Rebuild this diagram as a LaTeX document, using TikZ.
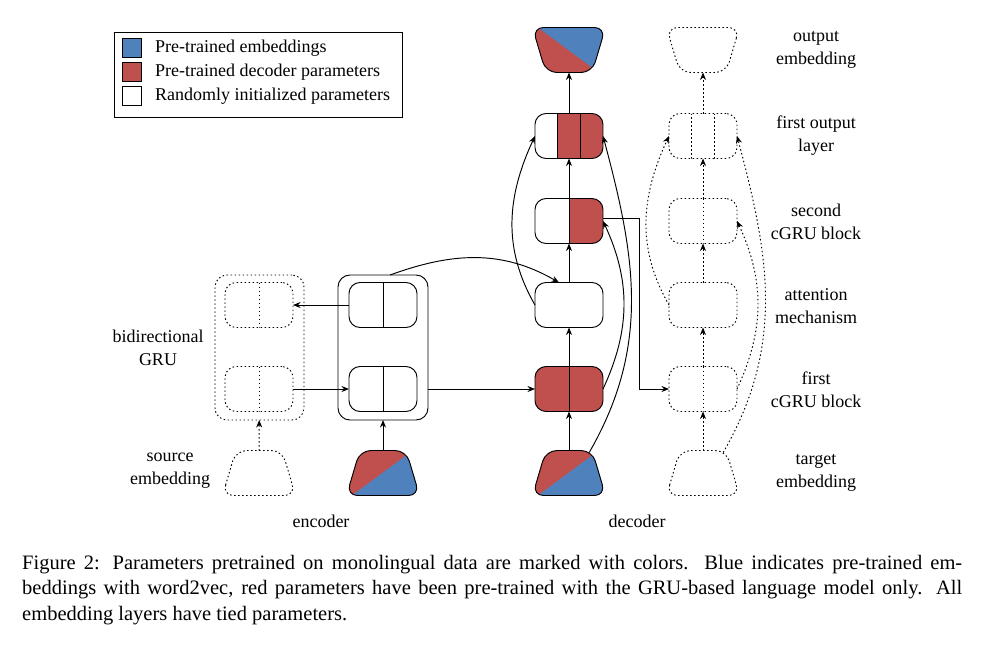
\documentclass[tikz,border=0pt]{standalone}
\usepackage{fontspec}
\setmainfont{Liberation Serif}
\usetikzlibrary{shapes.geometric,arrows.meta,calc}
\definecolor{myblue}{HTML}{4F81BD}
\definecolor{myred}{HTML}{C0504D}
\tikzset{
  ln/.style={line width=0.95pt},
  dots/.style={dash pattern=on 1.5pt off 2.5pt},
  blk/.style={draw, ln, rounded corners=11pt, minimum width=68pt, minimum height=45pt, inner sep=0pt, outer sep=0pt},
  dblk/.style={blk, dots},
  embbase/.style={draw, ln, trapezium, trapezium left angle=74, trapezium right angle=74, trapezium stretches=true, minimum width=73pt, minimum height=45pt, inner sep=2pt, outer sep=0pt, rounded corners=11pt},
  embin/.style={embbase},
  embout/.style={embbase, shape border rotate=180},
  colin/.style={path picture={
    \fill[myred, sharp corners] (path picture bounding box.south west) rectangle (path picture bounding box.north east);
    \fill[myblue, sharp corners] ([yshift=-4pt]path picture bounding box.south west) -- ([yshift=5pt]path picture bounding box.north east) -- (path picture bounding box.south east) -- cycle;}},
  colout/.style={path picture={
    \fill[myred, sharp corners] (path picture bounding box.south west) rectangle (path picture bounding box.north east);
    \fill[myblue, sharp corners] ([yshift=4pt]path picture bounding box.north west) -- (path picture bounding box.north east) -- ([yshift=-5pt]path picture bounding box.south east) -- cycle;}},
  div/.style={path picture={\draw[ln, solid, sharp corners] (path picture bounding box.north) -- (path picture bounding box.south);}},
  ddiv/.style={path picture={\draw[ln, dots, sharp corners] (path picture bounding box.north) -- (path picture bounding box.south);}},
  halfsplit/.style={path picture={
    \fill[myred, sharp corners] (path picture bounding box.south) rectangle (path picture bounding box.north east);
    \draw[ln, solid, sharp corners] (path picture bounding box.north) -- (path picture bounding box.south);}},
  fullred/.style={fill=myred, div},
  thirds/.style={path picture={
    \fill[myred, sharp corners] ($(path picture bounding box.south west)!0.3333!(path picture bounding box.south east)$) rectangle (path picture bounding box.north east);
    \draw[ln, solid, sharp corners] ($(path picture bounding box.south west)!0.3333!(path picture bounding box.south east)$) -- ($(path picture bounding box.north west)!0.3333!(path picture bounding box.north east)$);
    \draw[ln, solid, sharp corners] ($(path picture bounding box.south west)!0.6667!(path picture bounding box.south east)$) -- ($(path picture bounding box.north west)!0.6667!(path picture bounding box.north east)$);}},
  dthirds/.style={path picture={
    \draw[ln, dots, sharp corners] ($(path picture bounding box.south west)!0.3333!(path picture bounding box.south east)$) -- ($(path picture bounding box.north west)!0.3333!(path picture bounding box.north east)$);
    \draw[ln, dots, sharp corners] ($(path picture bounding box.south west)!0.6667!(path picture bounding box.south east)$) -- ($(path picture bounding box.north west)!0.6667!(path picture bounding box.north east)$);}},
  arr/.style={ln, -{Stealth[length=7.5pt,width=6pt]}},
  darr/.style={arr, dots},
  sq/.style={draw, line width=0.9pt, minimum size=19pt, inner sep=0pt},
  lbl/.style={align=center, inner sep=0pt},
}
\begin{document}
\begin{tikzpicture}[x=1pt, y=-1pt, font=\fontsize{18}{23}\selectfont]
\useasboundingbox (0,0) rectangle (982,649);

% legend
\node[draw, ln, minimum width=288pt, minimum height=85pt, inner sep=0pt, anchor=north west] (leg) at (114,32) {};
\node[sq, fill=myblue] (sqb) at (131.5,48) {};
\node[sq, fill=myred] (sqr) at (131.5,72) {};
\node[sq, fill=white] (sqw) at (131.5,96) {};
\node[anchor=west, inner sep=0pt] (tb) at (155,48) {Pre-trained embeddings};
\node[anchor=west, inner sep=0pt] (tr) at (155,72) {Pre-trained decoder parameters};
\node[anchor=west, inner sep=0pt] (tw) at (155,96) {Randomly initialized parameters};

% bidirectional (dotted)
\node[dblk, rounded corners=12pt, minimum width=89pt, minimum height=145pt] (bdbox) at (259.5,347.5) {};
\node[dblk, ddiv] (bd1) at (259,305) {};
\node[dblk, ddiv] (bd2) at (259,389) {};
\node[embin, dots] (srcemb) at (259,473) {};

% encoder
\node[blk, rounded corners=12pt, minimum width=90pt, minimum height=145pt] (encbox) at (383,347.5) {};
\node[blk, div] (enc1) at (383,305) {};
\node[blk, div] (enc2) at (383,389) {};
\node[embin, colin] (encemb) at (383,473) {};

% decoder
\node[embout, colout] (oemb) at (569,50) {};
\node[blk, thirds] (fol) at (569,136) {};
\node[blk, halfsplit] (sc) at (569,221) {};
\node[blk] (att) at (569,305) {};
\node[blk, fullred] (fc) at (569,389) {};
\node[embin, colin] (temb) at (569,473) {};

% dotted decoder
\node[embout, dots] (doemb) at (703,50) {};
\node[dblk, dthirds] (dfol) at (703,136) {};
\node[dblk, ddiv] (dsc) at (703,221) {};
\node[dblk] (datt) at (703,305) {};
\node[dblk, ddiv] (dfc) at (703,389) {};
\node[embin, dots] (dtemb) at (703,473) {};

\coordinate (elb) at (639,300);

% encoder edges
\draw[darr] (srcemb) -- (bdbox);
\draw[arr] (encemb) -- (encbox);
\draw[arr] (enc1.west) -- (bd1.east);
\draw[arr] (bd2.east) -- (enc2.west);
\draw[arr] (encbox.east |- fc.west) -- (fc.west);
\draw[arr] ([xshift=7pt]encbox.north) to[out=20, in=150] ([xshift=-10pt]att.north);

% decoder edges
\draw[arr] (temb) -- (fc);
\draw[arr] (fc) -- (att);
\draw[arr] (att) -- (sc);
\draw[arr] (sc) -- (fol);
\draw[arr] (fol) -- (oemb);
\draw[arr] (att.west) to[out=120, in=245] (fol.west);
\draw[arr] (fc.east) to[out=65, in=-65] (sc.east);
\draw[arr] ([shift={(-3pt,-2pt)}]temb.top right corner) to[out=60, in=-75] (fol.east);
\draw[arr] ([yshift=3pt]sc.east) -- ([yshift=3pt]sc.east -| elb) -- (elb |- dfc.west) -- (dfc.west);

% dotted decoder edges
\draw[darr] (dtemb) -- (dfc);
\draw[darr] (dfc) -- (datt);
\draw[darr] (datt) -- (dsc);
\draw[darr] (dsc) -- (dfol);
\draw[darr] (dfol) -- (doemb);
\draw[darr] (datt.west) to[out=120, in=245] (dfol.west);
\draw[darr] (dfc.east) to[out=65, in=-65] (dsc.east);
\draw[darr] ([shift={(-3pt,-2pt)}]dtemb.top right corner) to[out=60, in=-75] (dfol.east);

% labels
\node[lbl] (lbid) at (158,348) {bidirectional\\GRU};
\node[lbl] (lsrc) at (170,471) {source\\embedding};
\node[lbl] (lenc) at (321,521) {encoder};
\node[lbl] (ldec) at (637,521) {decoder};
\node[lbl] (r1) at (816,50) {output\\embedding};
\node[lbl] (r2) at (816,136) {first output\\layer};
\node[lbl] (r3) at (816,222) {second\\cGRU block};
\node[lbl] (r4) at (816,306) {attention\\mechanism};
\node[lbl] (r5) at (816,390) {first\\cGRU block};
\node[lbl] (r6) at (816,473) {target\\embedding};

% caption
\node[anchor=north west, inner sep=0pt, text width=940pt, align=justify, font=\fontsize{20.5}{25.5}\selectfont] (cap) at (22,555) {\tolerance=10000\hyphenpenalty=10000 Figure 2: Parameters pretrained on monolingual data are marked with colors.  Blue indicates pre-trained em-\linebreak beddings with word2vec, red parameters have been pre-trained with the GRU-based language model only.  All\linebreak embedding layers have tied parameters.};
\end{tikzpicture}
\end{document}
